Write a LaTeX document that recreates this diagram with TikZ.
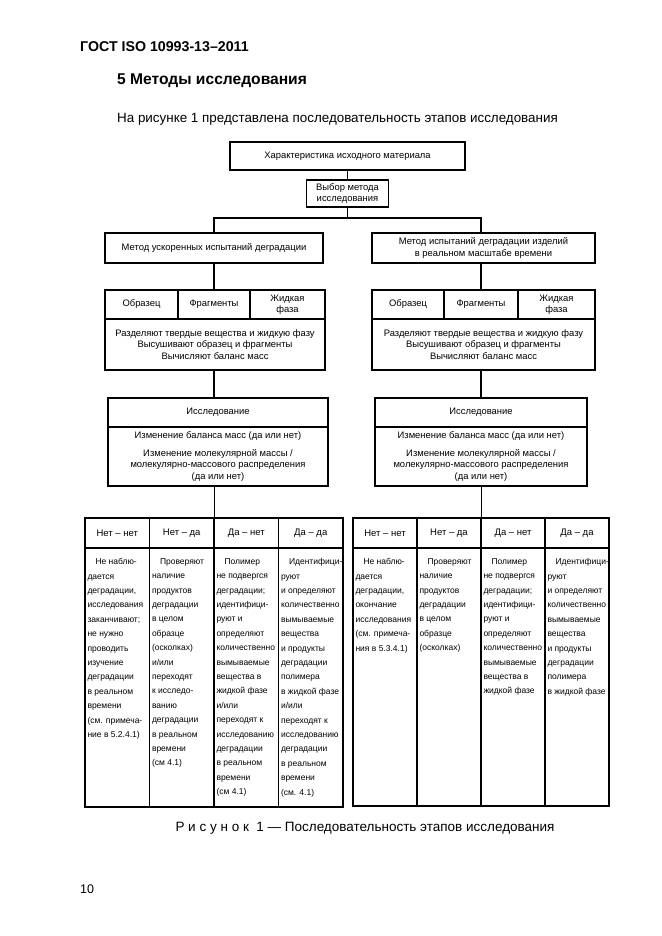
\documentclass[tikz,border=0pt]{standalone}
\usepackage{fontspec}
\setmainfont{Liberation Sans}
\begin{document}
\begin{tikzpicture}[x=1pt,y=-1pt,
  bx/.style={draw, line width=1.1pt, inner sep=0pt, align=center, font=\fontsize{9.4}{11.3}\selectfont},
  cell/.style={draw, line width=1.4pt, inner sep=0pt, align=center, font=\fontsize{9.5}{12}\selectfont},
  bodytxt/.style={anchor=north west, inner sep=0pt, align=left, font=\fontsize{8.5}{14.4}\selectfont},
  conn/.style={line width=1.1pt}]
\useasboundingbox[fill=white] (0,0) rectangle (661,936);

% page texts
\node[anchor=base west, inner sep=0pt, font=\fontsize{14.2}{16}\selectfont\bfseries] (gost) at (80,52) {ГОСТ ISO 10993-13–2011};
\node[anchor=base west, inner sep=0pt, font=\fontsize{15.6}{18}\selectfont\bfseries] (sec) at (117,84.5) {5 Методы исследования};
\node[anchor=base west, inner sep=0pt, font=\fontsize{13.4}{15}\selectfont] (intro) at (117,122.5) {На рисунке 1 представлена последовательность этапов исследования};

% top boxes
\node[bx, minimum width=235pt, minimum height=28pt] (top) at (347.5,156) {Характеристика исходного материала};
\node[bx, minimum width=82pt, minimum height=27pt] (sel) at (347.5,193.5) {Выбор метода\\исследования};
\coordinate (j) at (347.5,218);

% method boxes
\node[bx, minimum width=218pt, minimum height=30pt] (ml) at (214,248) {Метод ускоренных испытаний деградации};
\node[bx, minimum width=223pt, minimum height=30pt] (mr) at (483.5,248) {Метод испытаний деградации изделий\\в реальном масштабе времени};

% sample blocks left
\node[bx, minimum width=73pt, minimum height=29pt] (ls1) at (141.5,304.5) {Образец};
\node[bx, minimum width=72pt, minimum height=29pt] (ls2) at (214,304.5) {Фрагменты};
\node[bx, minimum width=75pt, minimum height=29pt] (ls3) at (287.5,304.5) {Жидкая\\фаза};
\node[bx, minimum width=220pt, minimum height=51pt] (lsb) at (215,344.5) {Разделяют твердые вещества и жидкую фазу\\Высушивают образец и фрагменты\\Вычисляют баланс масс};
% sample blocks right
\node[bx, minimum width=72pt, minimum height=29pt] (rs1) at (408,304.5) {Образец};
\node[bx, minimum width=74pt, minimum height=29pt] (rs2) at (481,304.5) {Фрагменты};
\node[bx, minimum width=77pt, minimum height=29pt] (rs3) at (556.5,304.5) {Жидкая\\фаза};
\node[bx, minimum width=223pt, minimum height=51pt] (rsb) at (483.5,344.5) {Разделяют твердые вещества и жидкую фазу\\Высушивают образец и фрагменты\\Вычисляют баланс масс};

% investigation blocks
\node[bx, minimum width=220pt, minimum height=29pt] (li1) at (218,412.5) {Исследование};
\node[bx, minimum width=220pt, minimum height=59pt] (li2) at (218,456.5) {Изменение баланса масс (да или нет)\\[6.5pt]Изменение молекулярной массы /\\молекулярно-массового распределения\\(да или нет)};
\node[bx, minimum width=212pt, minimum height=29pt] (ri1) at (481,412.5) {Исследование};
\node[bx, minimum width=212pt, minimum height=59pt] (ri2) at (481,456.5) {Изменение баланса масс (да или нет)\\[6.5pt]Изменение молекулярной массы /\\молекулярно-массового распределения\\(да или нет)};

% left table
\node[cell, minimum width=64.5pt, minimum height=30pt] (lh1) at (117.25,533) {Нет – нет};
\node[cell, minimum width=64.5pt, minimum height=30pt] (lh2) at (181.75,533) {Нет – да};
\node[cell, minimum width=64.5pt, minimum height=30pt] (lh3) at (246.25,533) {Да – нет};
\node[cell, minimum width=64.5pt, minimum height=30pt] (lh4) at (310.75,533) {Да – да};
\node[cell, minimum width=64.5pt, minimum height=259pt] (lb1) at (117.25,677.5) {};
\node[cell, minimum width=64.5pt, minimum height=259pt] (lb2) at (181.75,677.5) {};
\node[cell, minimum width=64.5pt, minimum height=259pt] (lb3) at (246.25,677.5) {};
\node[cell, minimum width=64.5pt, minimum height=259pt] (lb4) at (310.75,677.5) {};
% right table
\node[cell, minimum width=64pt, minimum height=30pt] (rh1) at (385,533) {Нет – нет};
\node[cell, minimum width=64pt, minimum height=30pt] (rh2) at (449,533) {Нет – да};
\node[cell, minimum width=64pt, minimum height=30pt] (rh3) at (513,533) {Да – нет};
\node[cell, minimum width=64pt, minimum height=30pt] (rh4) at (577,533) {Да – да};
\node[cell, minimum width=64pt, minimum height=258pt] (rb1) at (385,677) {};
\node[cell, minimum width=64pt, minimum height=258pt] (rb2) at (449,677) {};
\node[cell, minimum width=64pt, minimum height=258pt] (rb3) at (513,677) {};
\node[cell, minimum width=64pt, minimum height=258pt] (rb4) at (577,677) {};

% body texts left
\node[bodytxt] (lt1) at ([xshift=3pt,yshift=-11pt]lb1.north west) {\hspace*{8pt}Не наблю-\\дается\\деградации,\\исследования\\заканчивают;\\не нужно\\проводить\\изучение\\деградации\\в реальном\\времени\\(см. примеча-\\ние в 5.2.4.1)};
\node[bodytxt] (lt2) at ([xshift=3pt,yshift=-11pt]lb2.north west) {\hspace*{8pt}Проверяют\\наличие\\продуктов\\деградации\\в целом\\образце\\(осколках)\\и/или\\переходят\\к исследо-\\ванию\\деградации\\в реальном\\времени\\(см 4.1)};
\node[bodytxt] (lt3) at ([xshift=3pt,yshift=-11pt]lb3.north west) {\hspace*{8pt}Полимер\\не подвергся\\деградации;\\идентифици-\\руют и\\определяют\\количественно\\вымываемые\\вещества в\\жидкой фазе\\и/или\\переходят к\\исследованию\\деградации\\в реальном\\времени\\(см 4.1)};
\node[bodytxt] (lt4) at ([xshift=3pt,yshift=-11pt]lb4.north west) {\hspace*{8pt}Идентифици-\\руют\\и определяют\\количественно\\вымываемые\\вещества\\и продукты\\деградации\\полимера\\в жидкой фазе\\и/или\\переходят к\\исследованию\\деградации\\в реальном\\времени\\(см. 4.1)};
% body texts right
\node[bodytxt] (rt1) at ([xshift=3pt,yshift=-11pt]rb1.north west) {\hspace*{8pt}Не наблю-\\дается\\деградации,\\окончание\\исследования\\(см. примеча-\\ния в 5.3.4.1)};
\node[bodytxt] (rt2) at ([xshift=3pt,yshift=-11pt]rb2.north west) {\hspace*{8pt}Проверяют\\наличие\\продуктов\\деградации\\в целом\\образце\\(осколках)};
\node[bodytxt] (rt3) at ([xshift=3pt,yshift=-11pt]rb3.north west) {\hspace*{8pt}Полимер\\не подвергся\\деградации;\\идентифици-\\руют и\\определяют\\количественно\\вымываемые\\вещества в\\жидкой фазе};
\node[bodytxt] (rt4) at ([xshift=3pt,yshift=-11pt]rb4.north west) {\hspace*{8pt}Идентифици-\\руют\\и определяют\\количественно\\вымываемые\\вещества\\и продукты\\деградации\\полимера\\в жидкой фазе};

% connectors
\draw[conn] (top.south) -- (sel.north);
\draw[conn] (sel.south) -- (j);
\draw[conn] (ml.north) |- (j) -| (rs2.north |- mr.north);
\draw[conn] (ml.south) -- (ls2.north);
\draw[conn] (rs2.north |- mr.south) -- (rs2.north);
\draw[conn] (ls2.north |- lsb.south) -- (ls2.north |- li1.north);
\draw[conn] (rs2.north |- rsb.south) -- (rs2.north |- ri1.north);
\draw[conn] (lh2.north east |- li2.south) -- (lh2.north east);
\draw[conn] (rh2.north east |- ri2.south) -- (rh2.north east);

% caption and page number
\node[anchor=base, inner sep=0pt, font=\fontsize{13.5}{15}\selectfont] (cap) at (365,831) {Р и с у н о к\ \ 1 — Последовательность этапов исследования};
\node[anchor=base west, inner sep=0pt, font=\fontsize{12.5}{15}\selectfont] (pg) at (80,893) {10};
\end{tikzpicture}
\end{document}
